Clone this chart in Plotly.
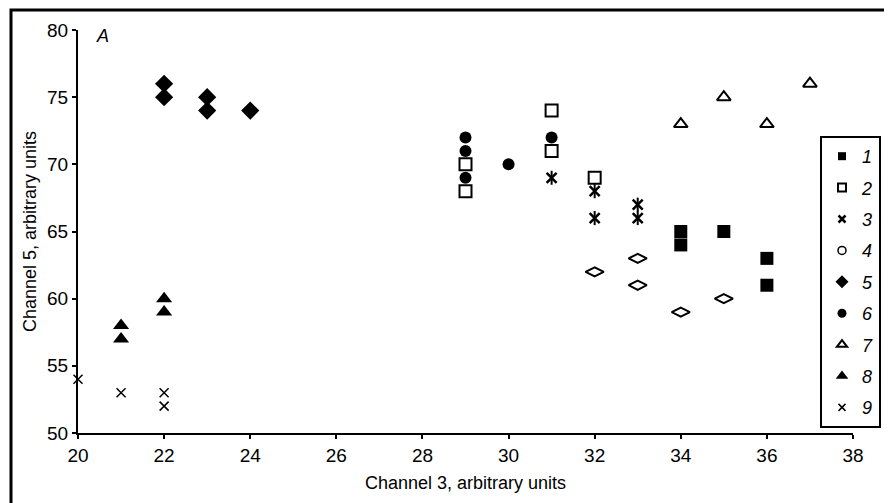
import plotly.graph_objects as go

# ---- data (Channel 3 = x, Channel 5 = y) ----
s1_x = [34, 34, 35, 36, 36]
s1_y = [65, 64, 65, 63, 61]
s2_x = [29, 29, 31, 31, 32]
s2_y = [70, 68, 74, 71, 69]
s3_x = [31, 32, 32, 33, 33]
s3_y = [69, 68, 66, 67, 66]
s4_x = [32, 33, 33, 34, 35]
s4_y = [62, 63, 61, 59, 60]
s5_x = [22, 22, 23, 23, 24]
s5_y = [76, 75, 75, 74, 74]
s6_x = [29, 29, 29, 30, 31]
s6_y = [72, 71, 69, 70, 72]
s7_x = [34, 35, 36, 37]
s7_y = [73, 75, 73, 76]
s8_x = [21, 21, 22, 22]
s8_y = [58, 57, 60, 59]
s9_x = [20, 21, 22, 22]
s9_y = [54, 53, 53, 52]

series_names = ["1", "2", "3", "4", "5", "6", "7", "8", "9"]
x_ticks = [20, 22, 24, 26, 28, 30, 32, 34, 36, 38]
y_ticks = [50, 55, 60, 65, 70, 75, 80]

K = "black"
styles = [
    dict(symbol="square", size=13, color=K),
    dict(symbol="square-open", size=12, color=K, line=dict(width=2, color=K)),
    dict(symbol="x-thin-open", size=10, color=K, line=dict(width=2.5, color=K)),
    dict(symbol="diamond-wide-open", size=13, color=K, line=dict(width=2, color=K)),
    dict(symbol="diamond", size=14, color=K),
    dict(symbol="circle", size=12, color=K),
    dict(symbol="triangle-up-open", size=12, color=K, line=dict(width=2, color=K)),
    dict(symbol="triangle-up", size=14, color=K),
    dict(symbol="x-thin-open", size=9, color=K, line=dict(width=1.5, color=K)),
]
legend_styles = [
    dict(symbol="square", size=8, color=K),
    dict(symbol="square-open", size=8, color=K, line=dict(width=2, color=K)),
    dict(symbol="x-thin-open", size=7, color=K, line=dict(width=2.5, color=K)),
    dict(symbol="circle-open", size=8, color=K, line=dict(width=1.5, color=K)),
    dict(symbol="diamond", size=10, color=K),
    dict(symbol="circle", size=9, color=K),
    dict(symbol="triangle-up-open", size=9, color=K, line=dict(width=2, color=K)),
    dict(symbol="triangle-up", size=11, color=K),
    dict(symbol="x-thin-open", size=7, color=K, line=dict(width=1.5, color=K)),
]
xs = [s1_x, s2_x, s3_x, s4_x, s5_x, s6_x, s7_x, s8_x, s9_x]
ys = [s1_y, s2_y, s3_y, s4_y, s5_y, s6_y, s7_y, s8_y, s9_y]

fig = go.Figure()
for name, x, y, st, lst in zip(series_names, xs, ys, styles, legend_styles):
    fig.add_trace(go.Scatter(
        x=x, y=y, mode="markers", showlegend=False,
        legendgroup="g" + name, marker=st, cliponaxis=False,
    ))
    if name == "3":
        fig.add_trace(go.Scatter(
            x=x, y=y, mode="markers", showlegend=False, legendgroup="g3",
            marker=dict(symbol="line-ns-open", size=10, color=K,
                        line=dict(width=2, color=K)),
            cliponaxis=False,
        ))
    # legend entry (no data point of its own)
    fig.add_trace(go.Scatter(
        x=[None], y=[None], mode="markers", name="<i>" + name + "</i>",
        legendgroup="g" + name, marker=lst,
    ))

# The page body has an 8px default margin, so the figure is drawn 8px in.
OFF = 8
W, H = 892 - OFF, 503 - OFF
# target plot area on screen: x 78..853, y 30..433
L, R, T, B = 78 - OFF, W - (853 - OFF), 30 - OFF, H - (433 - OFF)
pw, ph = W - L - R, H - T - B

def px_to_paper_x(p):  # p = screen pixel
    return (p - OFF - L) / pw

def px_to_paper_y(p):
    return (H - B - (p - OFF)) / ph

font_family = "Liberation Sans, Arial, sans-serif"

fig.update_layout(
    width=W, height=H, autosize=False,
    margin=dict(l=L, r=R, t=T, b=B, autoexpand=False),
    paper_bgcolor="white", plot_bgcolor="white",
    font=dict(family=font_family, color=K, size=18),
    showlegend=True,
    legend=dict(
        x=px_to_paper_x(881), xanchor="right",
        y=px_to_paper_y(136), yanchor="top",
        bordercolor=K, borderwidth=2, bgcolor="white",
        font=dict(size=18, family=font_family),
        traceorder="grouped", tracegroupgap=5,
        itemwidth=30,
    ),
    xaxis=dict(
        range=[20, 38], tickvals=x_ticks, ticktext=[str(v) for v in x_ticks],
        showgrid=False, zeroline=False, showline=True, linecolor=K, linewidth=2,
        ticks="outside", ticklen=4, tickwidth=1.5, tickcolor=K,
        tickfont=dict(size=19), automargin=False,
        title=dict(text="Channel 3, arbitrary units", font=dict(size=18), standoff=12),
    ),
    yaxis=dict(
        range=[50, 80], tickvals=y_ticks, ticktext=[str(v) for v in y_ticks],
        showgrid=False, zeroline=False, showline=True, linecolor=K, linewidth=2,
        ticks="outside", ticklen=4, tickwidth=1.5, tickcolor=K,
        tickfont=dict(size=19), automargin=False,
        title=dict(text="Channel 5, arbitrary units", font=dict(size=18), standoff=6),
    ),
    annotations=[dict(
        text="<i>A</i>", xref="paper", yref="paper",
        x=px_to_paper_x(102), y=px_to_paper_y(36),
        xanchor="center", yanchor="middle",
        showarrow=False, font=dict(size=18, family=font_family),
    )],
    shapes=[dict(
        type="rect", xref="paper", yref="paper",
        x0=px_to_paper_x(11), x1=px_to_paper_x(910),
        y0=px_to_paper_y(520), y1=px_to_paper_y(10),
        line=dict(color=K, width=3), fillcolor="rgba(0,0,0,0)", layer="below",
    )],
)

fig.write_html("out.html")
